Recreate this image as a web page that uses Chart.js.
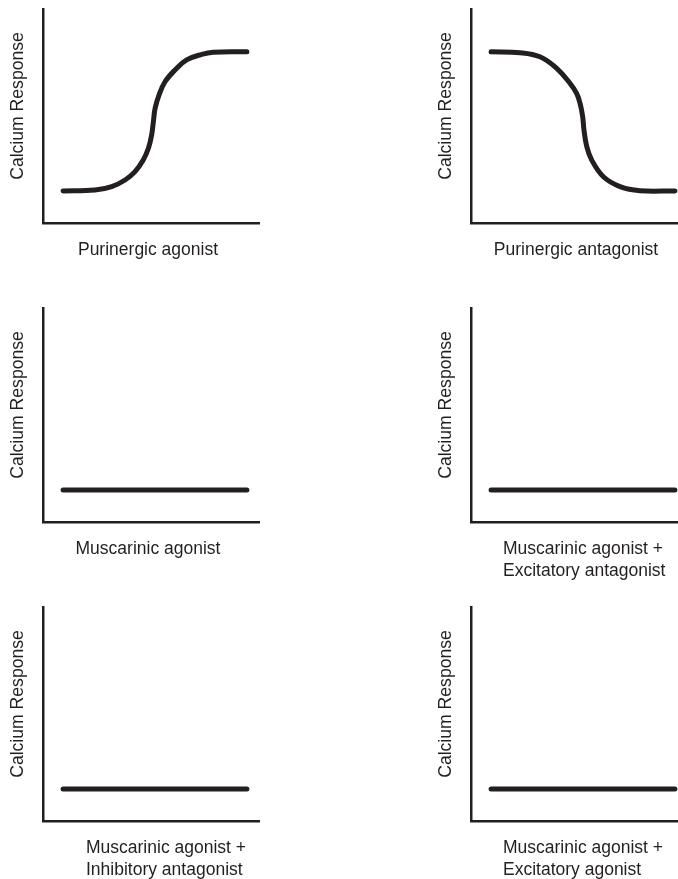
<!DOCTYPE html>
<html>
<head>
<meta charset="utf-8">
<script src="https://cdn.jsdelivr.net/npm/chart.js@4.4.0/dist/chart.umd.min.js"></script>
<style>
  html, body { margin: 0; padding: 0; background: #fff; width: 678px; height: 879px; overflow: hidden; position: relative; }
  canvas { position: absolute; }
</style>
</head>
<body>
<script>
// dose (x) / response (y), both on a 0-10 scale
const riseX = [0.93, 2.41, 3.18, 3.8, 4.26, 4.64, 4.88, 5.03, 5.11, 5.19, 5.37, 5.65, 6.11, 6.65, 7.35, 7.88, 9.44];
const riseY = [1.5, 1.54, 1.7, 2.01, 2.4, 2.94, 3.49, 4.11, 4.73, 5.36, 5.98, 6.6, 7.15, 7.62, 7.88, 7.98, 8.0];

const fallX = [0.93, 2.27, 3.19, 3.97, 4.58, 4.89, 5.05, 5.17, 5.23, 5.36, 5.59, 6.13, 6.9, 7.82, 9.44];
const fallY = [8.0, 7.96, 7.77, 7.23, 6.53, 6.06, 5.59, 4.97, 4.35, 3.57, 2.94, 2.16, 1.7, 1.51, 1.5];

const flatX = [0.93, 9.44];
const flatY = [1.5, 1.5];

// one entry per panel, left to right, top to bottom
const panelCurves = ["rise", "fall", "flat", "flat", "flat", "flat"];
const panelLabels = [
  ["Purinergic agonist"],
  ["Purinergic antagonist"],
  ["Muscarinic agonist"],
  ["Muscarinic agonist +", "Excitatory antagonist"],
  ["Muscarinic agonist +", "Inhibitory antagonist"],
  ["Muscarinic agonist +", "Excitatory agonist"]
];
const yLabel = "Calcium Response";

// layout
const ink = "#231f20";
const fontFamily = "'Liberation Sans', Arial, Helvetica, sans-serif";
const colLeft = [0, 428];
const rowTop = [0, 299, 598];
const canvasW = 263, canvasH = 299;
const areaLeft = 43, areaTop = 9, areaBottom = 223;
const labelIndent = [null, null, null, 32, 43, 32]; // multi-line labels are left aligned

const curves = {
  rise: [riseX, riseY],
  fall: [fallX, fallY],
  flat: [flatX, flatY]
};

// draws the axis labels next to the axes
const axisText = {
  id: "axisText",
  afterDraw(chart, args, opts) {
    const { ctx, chartArea } = chart;
    ctx.save();
    ctx.fillStyle = ink;

    // y label, rotated
    ctx.font = "17.6px " + fontFamily;
    ctx.textAlign = "center";
    ctx.textBaseline = "alphabetic";
    ctx.translate(23, (chartArea.top + chartArea.bottom) / 2 - 10);
    ctx.rotate(-Math.PI / 2);
    ctx.fillText(opts.yText, 0, 0);
    ctx.setTransform(1, 0, 0, 1, 0, 0);

    // x label
    ctx.font = "17.5px " + fontFamily;
    let x;
    if (opts.indent == null) {
      ctx.textAlign = "center";
      x = (chartArea.left + chartArea.right) / 2 - 3;
    } else {
      ctx.textAlign = "left";
      x = chartArea.left + opts.indent;
    }
    opts.lines.forEach((line, k) => {
      ctx.fillText(line, x, chartArea.bottom + 32 + k * 22);
    });
    ctx.restore();
  }
};

panelLabels.forEach((label, i) => {
  const canvas = document.createElement("canvas");
  canvas.width = canvasW;
  canvas.height = canvasH;
  canvas.style.left = colLeft[i % 2] + "px";
  canvas.style.top = rowTop[Math.floor(i / 2)] + "px";
  document.body.appendChild(canvas);

  const [xs, ys] = curves[panelCurves[i]];

  new Chart(canvas, {
    type: "line",
    data: {
      datasets: [{
        data: xs.map((x, k) => ({ x: x, y: ys[k] })),
        borderColor: ink,
        borderWidth: 5,
        borderCapStyle: "round",
        borderJoinStyle: "round",
        pointRadius: 0,
        tension: 0.4,
        fill: false
      }]
    },
    plugins: [axisText],
    options: {
      responsive: false,
      animation: false,
      events: [],
      layout: {
        autoPadding: false,
        padding: { left: areaLeft, top: areaTop, right: 4, bottom: canvasH - areaBottom }
      },
      plugins: {
        legend: { display: false },
        tooltip: { enabled: false },
        axisText: { yText: yLabel, lines: label, indent: labelIndent[i] }
      },
      scales: {
        x: {
          type: "linear",
          min: 0,
          max: 10,
          ticks: { display: false },
          grid: { display: false, drawTicks: false },
          border: { display: true, width: 2.5, color: ink }
        },
        y: {
          type: "linear",
          min: 0,
          max: 10,
          ticks: { display: false },
          grid: { display: false, drawTicks: false },
          border: { display: true, width: 2.5, color: ink }
        }
      }
    }
  });
});
</script>
</body>
</html>
